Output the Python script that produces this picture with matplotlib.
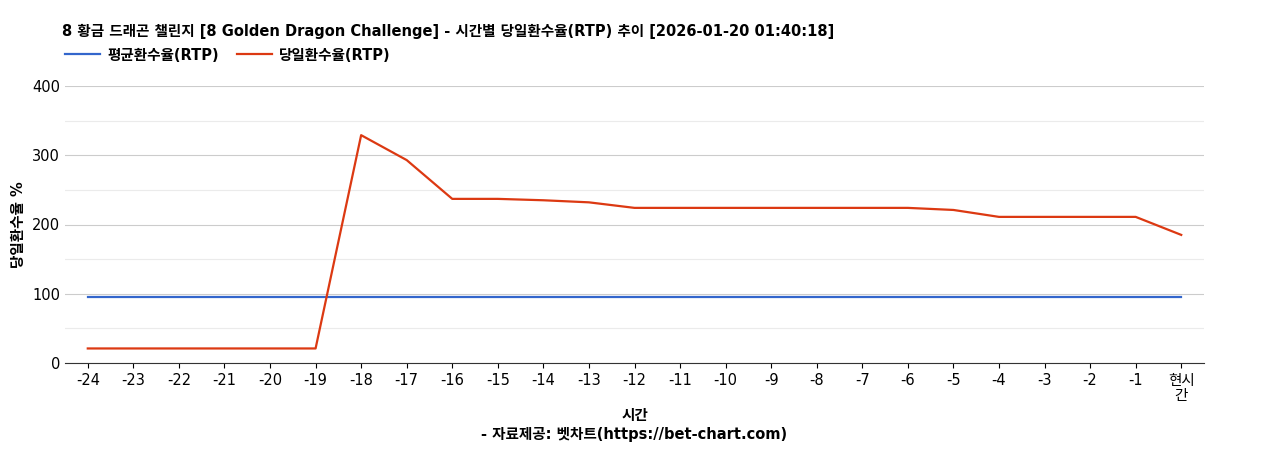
import matplotlib
matplotlib.use("Agg")
import matplotlib.pyplot as plt

plt.rcParams['font.family'] = ['DejaVu Sans', 'Noto Sans CJK KR']

labels = ['-24','-23','-22','-21','-20','-19','-18','-17','-16','-15','-14','-13','-12',
          '-11','-10','-9','-8','-7','-6','-5','-4','-3','-2','-1','현시\n간']
avg_rtp = [95.5]*25
daily_rtp = [21,21,21,21,21,21,329,293,237,237,235,232,224,224,224,224,224,224,224,221,211,211,211,211,185]

fig = plt.figure(figsize=(12.68,4.5), dpi=100)
ax = fig.add_axes([65/1268, 1-363/450, (1204-65)/1268, (363-86)/450])
x = range(len(labels))
ax.plot(x, avg_rtp, color='#3366cc', lw=1.6, label='평균환수율(RTP)')
ax.plot(x, daily_rtp, color='#dc3912', lw=1.6, label='당일환수율(RTP)')
ax.set_ylim(0,400)
ax.set_xlim(-0.5, 24.5)
ax.set_yticks([0,100,200,300,400])
ax.set_yticks([50,150,250,350], minor=True)
ax.grid(axis='y', which='major', color='#cccccc', lw=0.8)
ax.grid(axis='y', which='minor', color='#ebebeb', lw=0.8)
ax.tick_params(axis='y', which='both', length=0, labelsize=10.5)
ax.tick_params(axis='x', labelsize=10.5)
ax.set_xticks(list(x))
ax.set_xticklabels(labels, linespacing=1.0)
ax.set_axisbelow(True)
for s in ['top','right','left']:
    ax.spines[s].set_visible(False)
ax.spines['bottom'].set_color('#333333')
ax.set_ylabel('당일환수율 %', fontsize=10.5, fontweight='bold')
ax.set_xlabel('시간\n- 자료제공: 벳차트(https://bet-chart.com)', fontsize=10.5, fontweight='bold', linespacing=1.3)
fig.text(62/1268, 1-31/450, '8 황금 드래곤 챌린지 [8 Golden Dragon Challenge] - 시간별 당일환수율(RTP) 추이 [2026-01-20 01:40:18]',
         fontsize=10.5, fontweight='bold', va='center')
fig.legend(loc='center left', bbox_to_anchor=(52/1268, 1-55/450), ncol=2, frameon=False,
           prop={'weight':'bold','size':10.5}, handlelength=2.4, handletextpad=0.5, columnspacing=1.2)
fig.savefig('out.png', dpi=100)
